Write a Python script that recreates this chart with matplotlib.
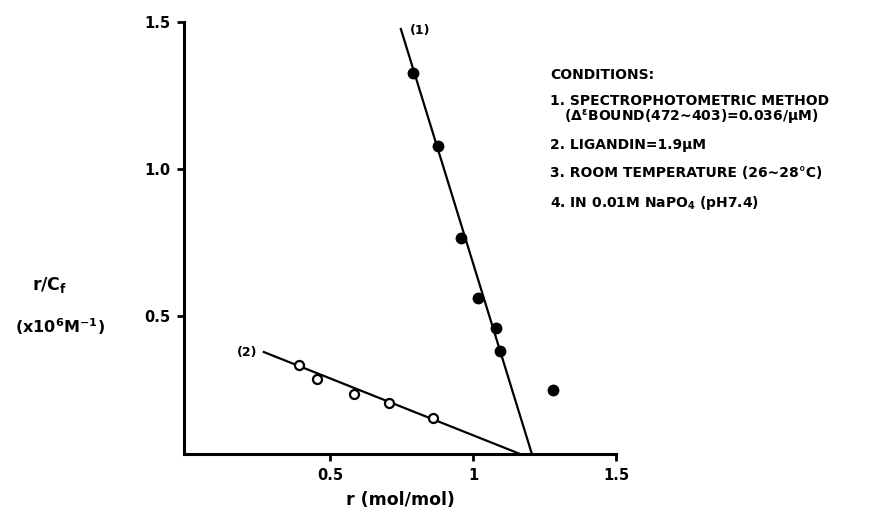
import matplotlib.pyplot as plt

plt.rcParams['font.family'] = ['DejaVu Sans']
plt.rcParams['font.weight'] = 'bold'
plt.rcParams['mathtext.fontset'] = 'custom'
plt.rcParams['mathtext.rm'] = 'DejaVu Sans:bold'
plt.rcParams['mathtext.it'] = 'DejaVu Sans:bold'
plt.rcParams['mathtext.bf'] = 'DejaVu Sans:bold'

# Scatchard data, curve (1): filled circles
r_filled = [0.791, 0.879, 0.958, 1.019, 1.080, 1.094, 1.279]
rc_filled = [1.326, 1.078, 0.764, 0.562, 0.460, 0.382, 0.247]
# curve (2): open circles
r_open = [0.392, 0.455, 0.584, 0.706, 0.860]
rc_open = [0.332, 0.284, 0.235, 0.205, 0.151]
# fitted straight lines (end points)
fit1_r = [0.748, 1.206]
fit1_rc = [1.476, 0.03]
fit2_r = [0.269, 1.165]
fit2_rc = [0.377, 0.03]

xticks = [0.5, 1.0, 1.5]
xticklabels = ['0.5', '1', '1.5']
yticks = [0.5, 1.0, 1.5]
yticklabels = ['0.5', '1.0', '1.5']

conditions = [
    'CONDITIONS:',
    '1. SPECTROPHOTOMETRIC METHOD',
    '   (Δ$^{ε}$BOUND(472~403)=0.036/μM)',
    '2. LIGANDIN=1.9μM',
    '3. ROOM TEMPERATURE (26~28°C)',
    '4. IN 0.01M NaPO$_4$ (pH7.4)',
]
cond_y = [75, 101, 118, 145, 173, 203]

fig = plt.figure(figsize=(8.73, 5.15), dpi=100)
ax = fig.add_axes([184 / 873, 1 - 454 / 515, (616 - 184) / 873, (454 - 22) / 515])

ax.plot(fit1_r, fit1_rc, color='black', lw=1.6)
ax.plot(fit2_r, fit2_rc, color='black', lw=1.6)
ax.plot(r_filled, rc_filled, 'o', color='black', ms=7.5)
ax.plot(r_open, rc_open, 'o', mfc='white', mec='black', mew=1.6, ms=6.5)

ax.text(0.78, 1.47, '(1)', fontsize=9, fontweight='bold', va='center')
ax.text(0.245, 0.377, '(2)', fontsize=9, fontweight='bold', va='center', ha='right')

ax.set_xlim(-0.01, 1.5)
ax.set_ylim(0.03, 1.5)
ax.set_xticks(xticks)
ax.set_xticklabels(xticklabels)
ax.set_yticks(yticks)
ax.set_yticklabels(yticklabels)
ax.tick_params(width=2, length=5, labelsize=10.5, pad=5)
for lab in ax.get_xticklabels() + ax.get_yticklabels():
    lab.set_fontweight('bold')
ax.spines['top'].set_visible(False)
ax.spines['right'].set_visible(False)
ax.spines['left'].set_linewidth(2.2)
ax.spines['bottom'].set_linewidth(2.2)
ax.set_xlabel('r (mol/mol)', fontsize=12.5, fontweight='bold', labelpad=6)

fig.text(50 / 873, 1 - 285 / 515, 'r/C$_f$', fontsize=12.5, fontweight='bold',
         ha='center', va='center')
fig.text(60 / 873, 1 - 327 / 515, '(x10$^6$M$^{-1}$)', fontsize=11.5, fontweight='bold',
         ha='center', va='center')

for txt, yp in zip(conditions, cond_y):
    fig.text(550 / 873, 1 - yp / 515, txt, fontsize=10, fontweight='bold',
             ha='left', va='center')

fig.savefig('out.png', dpi=100)
